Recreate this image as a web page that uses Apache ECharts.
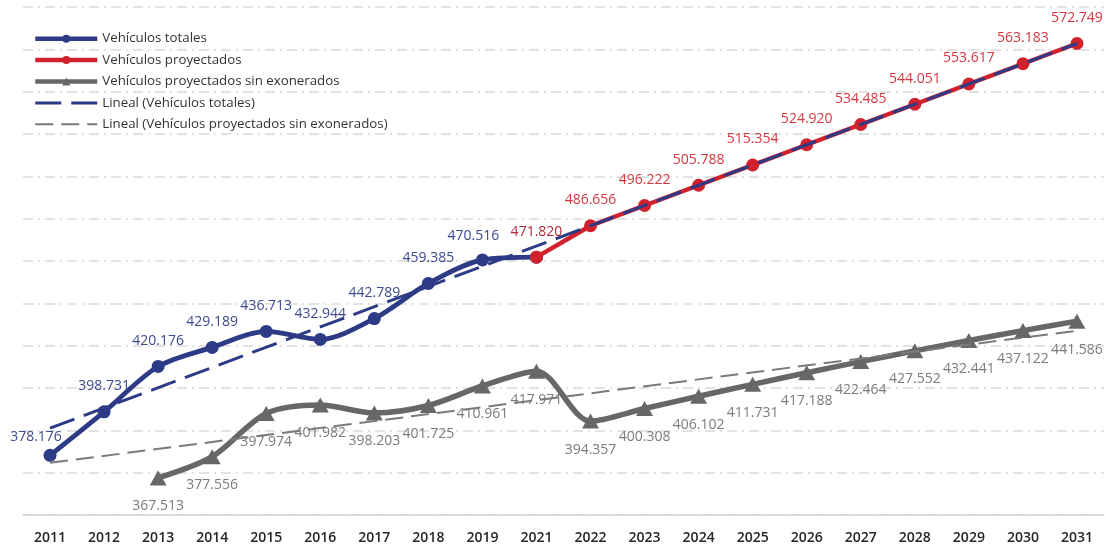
<!DOCTYPE html>
<html>
<head>
<meta charset="utf-8">
<script src="https://cdn.jsdelivr.net/npm/echarts@6/dist/echarts.min.js"></script>
<style>
  html, body { margin: 0; padding: 0; background: #ffffff; }
  #chart { width: 1106px; height: 546px; }
</style>
</head>
<body>
<div id="chart"></div>
<script>
// Años del eje (no hay dato para 2020)
const years = ['2011', '2012', '2013', '2014', '2015', '2016', '2017', '2018', '2019',
  '2021', '2022', '2023', '2024', '2025', '2026', '2027', '2028', '2029', '2030', '2031'];

// Parque vehicular registrado
const totales = [378176, 398731, 420176, 429189, 436713, 432944, 442789, 459385, 470516, 471820,
  null, null, null, null, null, null, null, null, null, null];

// Proyección 2022-2031 (parte del último dato real de 2021)
const proyectados = [null, null, null, null, null, null, null, null, null, 471820,
  486656, 496222, 505788, 515354, 524920, 534485, 544051, 553617, 563183, 572749];

// Proyección descontando los vehículos exonerados
const sinExonerados = [null, null, 367513, 377556, 397974, 401982, 398203, 401725, 410961, 417971,
  394357, 400308, 406102, 411731, 417188, 422464, 427552, 432441, 437122, 441586];

// Extremos de las líneas de tendencia lineal
const tendenciaTotales = [['2011', 391000], ['2031', 572749]];
const tendenciaSinExonerados = [['2011', 374660], ['2031', 437070]];

// Escala vertical: líneas guía cada 20.000 desde 350.000
const yMin = 350000, yMax = 590000, yStep = 20000;

const FONT = '"Open Sans", "Noto Sans", sans-serif';
const NAVY = '#2d3a86', RED = '#d0212d', GRAY = '#676767', GRAY_TREND = '#7a7a7a';
const NAVY_DASH = [26, 10], GRAY_DASH = [18, 8];

const fmt = v => String(Math.round(v)).replace(/\B(?=(\d{3})+(?!\d))/g, '.');

function toData(values, labelFor) {
  return values.map((v, i) => {
    if (v == null) return '-';
    const lab = labelFor ? labelFor(i) : null;
    return lab ? { value: v, label: lab } : v;
  });
}

const chart = echarts.init(document.getElementById('chart'), null, { renderer: 'canvas' });

chart.setOption({
  animation: false,
  backgroundColor: '#ffffff',
  textStyle: { fontFamily: FONT },
  grid: { left: 23, right: 2, top: 7, bottom: 31 },
  legend: {
    orient: 'vertical',
    left: 33,
    top: 30,
    padding: 0,
    itemWidth: 62,
    itemHeight: 10,
    itemGap: 4,
    textStyle: { fontFamily: FONT, fontSize: 13.3, color: '#333333', lineHeight: 17.4 },
    data: [
      { name: 'Vehículos totales', lineStyle: { width: 4.5 } },
      { name: 'Vehículos proyectados', lineStyle: { width: 4.5 } },
      { name: 'Vehículos proyectados sin exonerados', lineStyle: { width: 4.5 } },
      { name: 'Lineal (Vehículos totales)', lineStyle: { width: 3, type: NAVY_DASH }, itemStyle: { opacity: 0 } },
      { name: 'Lineal (Vehículos proyectados sin exonerados)', lineStyle: { width: 2, type: GRAY_DASH }, itemStyle: { opacity: 0 } }
    ]
  },
  xAxis: {
    type: 'category',
    data: years,
    boundaryGap: true,
    axisTick: { show: false },
    axisLine: { lineStyle: { color: '#d4d4d4', width: 1.5 } },
    axisLabel: { color: '#262626', fontSize: 14, fontWeight: 600, fontFamily: FONT, margin: 16 }
  },
  yAxis: {
    type: 'value',
    min: yMin,
    max: yMax,
    interval: yStep,
    axisLabel: { show: false },
    axisLine: { show: false },
    axisTick: { show: false },
    splitLine: { lineStyle: { color: '#d9d9d9', width: 1.5, type: [10, 5, 2, 5] } }
  },
  series: [
    {
      name: 'Vehículos totales',
      type: 'line',
      smooth: 0.3,
      z: 3,
      symbol: 'circle',
      symbolSize: 13,
      color: NAVY,
      lineStyle: { width: 4.8, color: NAVY },
      label: {
        show: true, position: 'top', distance: 12,
        color: '#3c4a8e', fontSize: 14, fontFamily: FONT, formatter: p => fmt(p.value)
      },
      data: toData(totales, i => {
        if (i === 0) return { offset: [-14, 7] };
        if (i === 8) return { offset: [-9, 2] };
        if (i === 9) return { show: false };
        return null;
      })
    },
    {
      name: 'Vehículos proyectados',
      type: 'line',
      z: 4,
      symbol: 'circle',
      symbolSize: 13,
      color: RED,
      lineStyle: { width: 4.5, color: RED },
      label: {
        show: true, position: 'top', distance: 12,
        color: '#d5363f', fontSize: 14, fontFamily: FONT, formatter: p => fmt(p.value)
      },
      data: toData(proyectados, i => (i === 9 ? { color: '#b42833' } : null))
    },
    {
      name: 'Vehículos proyectados sin exonerados',
      type: 'line',
      smooth: 0.3,
      z: 3,
      symbol: 'triangle',
      symbolSize: [17, 15],
      color: GRAY,
      lineStyle: { width: 5.5, color: GRAY },
      label: {
        show: true, position: 'bottom', distance: 14,
        color: '#7b7b7b', fontSize: 14, fontFamily: FONT, formatter: p => fmt(p.value)
      },
      data: toData(sinExonerados)
    },
    {
      name: 'Lineal (Vehículos totales)',
      type: 'line',
      z: 6,
      symbol: 'none',
      silent: true,
      color: NAVY,
      lineStyle: { width: 3, color: NAVY, type: NAVY_DASH },
      data: tendenciaTotales
    },
    {
      name: 'Lineal (Vehículos proyectados sin exonerados)',
      type: 'line',
      z: 5,
      symbol: 'none',
      silent: true,
      color: GRAY_TREND,
      lineStyle: { width: 2, color: GRAY_TREND, type: GRAY_DASH },
      data: tendenciaSinExonerados
    }
  ]
});
</script>
</body>
</html>
